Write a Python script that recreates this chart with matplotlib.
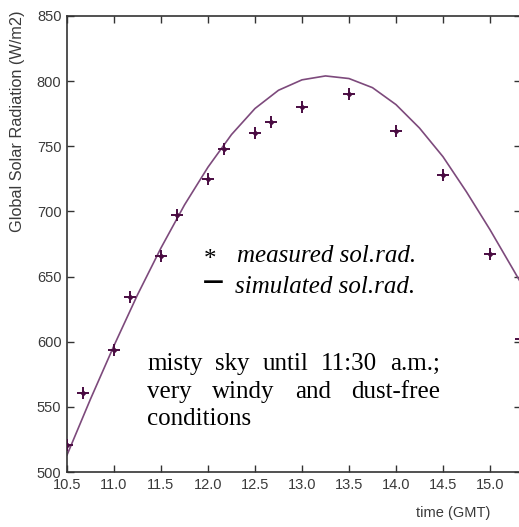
import matplotlib
matplotlib.use("Agg")
import matplotlib.pyplot as plt

# measured points (time GMT, W/m2)
meas_t = [10.5, 10.67, 11.0, 11.17, 11.5, 11.67, 12.0, 12.17, 12.5, 12.67,
          13.0, 13.5, 14.0, 14.5, 15.0, 15.33]
meas_v = [521, 561, 594, 634, 666, 697, 725, 748, 760, 769,
          780, 790, 762, 728, 667, 602]

# simulated curve
sim_t = [10.5, 10.75, 11.0, 11.25, 11.5, 11.75, 12.0, 12.25, 12.5, 12.75,
         13.0, 13.25, 13.5, 13.75, 14.0, 14.25, 14.5, 14.75, 15.0, 15.25, 15.33]
sim_v = [513, 556, 597, 636, 672, 705, 734, 759, 779, 793,
         801, 804, 802, 795, 782, 764, 742, 715, 686, 655, 645]

xticks = [10.5, 11.0, 11.5, 12.0, 12.5, 13.0, 13.5, 14.0, 14.5, 15.0]
yticks = [500, 550, 600, 650, 700, 750, 800, 850]

W, H = 519, 527
fig = plt.figure(figsize=(W / 100, H / 100), dpi=100)
# axes box in pixels: left 67, right 521 (just off the image), top 16, bottom 472
ax = fig.add_axes([67 / W, (H - 472) / H, (521 - 67) / W, (472 - 16) / H])

line_col = '#7d4a7c'
mark_col = '#4a0c42'
ax.plot(sim_t, sim_v, color=line_col, lw=1.2, zorder=2)
ax.plot(meas_t, meas_v, ls='none', marker='+', ms=9, mew=1.4, color=mark_col, zorder=3)
ax.plot(meas_t, meas_v, ls='none', marker='D', ms=3.2, mew=0, color=mark_col, zorder=3)

ax.set_xlim(10.5, 15.33)
ax.set_ylim(500, 850)
ax.set_xticks(xticks)
ax.set_yticks(yticks)
ax.set_xticklabels([f'{t:.1f}' for t in xticks])
ax.set_yticklabels([str(v) for v in yticks])

sans = 'Liberation Sans'
for lab in ax.get_xticklabels() + ax.get_yticklabels():
    lab.set_family(sans)
    lab.set_fontsize(10.5)
    lab.set_color('#3a3a3a')
ax.tick_params(direction='in', length=5, width=1, color='#333333',
               top=True, right=True, pad=4)
for s in ax.spines.values():
    s.set_color('#333333')
    s.set_linewidth(1.2)

fig.text(18 / W, 1 - 10 / H, 'Global Solar Radiation (W/m2)', rotation=90,
         ha='center', va='top', family=sans, fontsize=11.7, color='#3a3a3a')
fig.text(490 / W, 1 - 513 / H, 'time (GMT)', ha='right', va='center',
         family=sans, fontsize=10.5, color='#3a3a3a')

serif = 'Liberation Serif'
fs = 18
# legend written as text
fig.text(204 / W, 1 - 266 / H, '*', family=serif, fontsize=fs, va='baseline')
fig.text(237 / W, 1 - 262 / H, 'measured sol.rad.', family=serif, style='italic',
         fontsize=fs, va='baseline')
fig.text(213 / W, 1 - 282 / H, '\u2014', family='DejaVu Sans', fontweight='bold',
         fontsize=15, ha='center', va='center')
fig.text(235 / W, 1 - 293 / H, 'simulated sol.rad.', family=serif, style='italic',
         fontsize=fs, va='baseline')

# justified note
note_lines = ['misty sky until 11:30 a.m.;', 'very windy and dust-free', 'conditions']
baselines = [370, 398, 425]
left_px, right_px = 147, 440
fig.canvas.draw()
r = fig.canvas.get_renderer()
for i, (txt, bl) in enumerate(zip(note_lines, baselines)):
    words = txt.split()
    if i == len(note_lines) - 1:
        fig.text(left_px / W, 1 - bl / H, txt, family=serif, fontsize=fs, va='baseline')
        continue
    objs = [fig.text(0, 1 - bl / H, w, family=serif, fontsize=fs, va='baseline') for w in words]
    widths = [o.get_window_extent(r).width for o in objs]
    gap = (right_px - left_px - sum(widths)) / (len(words) - 1)
    x = left_px
    for o, w in zip(objs, widths):
        o.set_x(x / W)
        x += w + gap

fig.savefig('out.png', dpi=100)
